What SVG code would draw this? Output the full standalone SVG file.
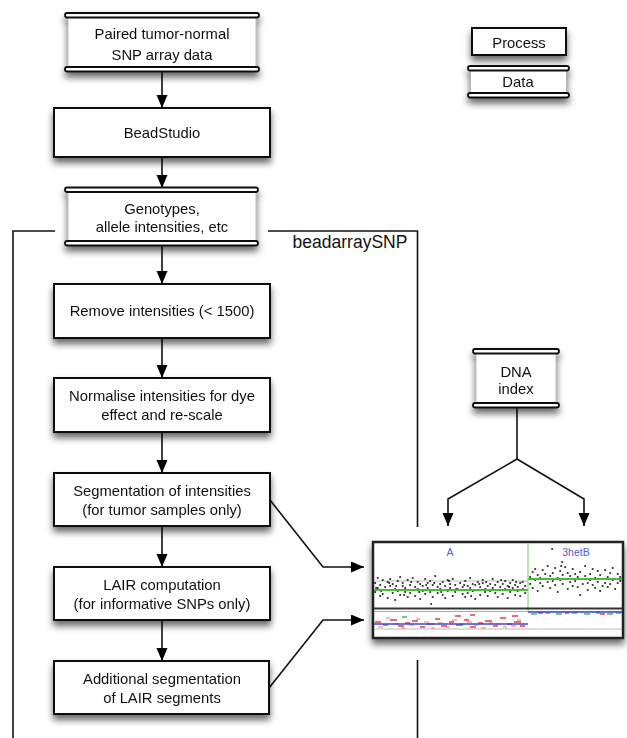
<svg xmlns="http://www.w3.org/2000/svg" width="627" height="738" viewBox="0 0 627 738">
<defs>
<filter id="sh" x="-20%" y="-20%" width="140%" height="160%">
<feDropShadow dx="0" dy="5" stdDeviation="3.5" flood-color="#000" flood-opacity="0.6"/>
</filter>
<marker id="ah" markerUnits="userSpaceOnUse" markerWidth="14" markerHeight="12" refX="13" refY="5.5" orient="auto">
<path d="M0,0 L13,5.5 L0,11 z" fill="#000"/>
</marker>
</defs>
<style>
.t{font-family:"Liberation Sans",Arial,sans-serif;font-size:14.8px;fill:#111;text-anchor:middle}
.pb{fill:#fff;stroke:#111;stroke-width:2}
.bar{fill:#fff;stroke:#111;stroke-width:1.8}
.body{fill:#fff;stroke:#aaa;stroke-width:0.8}
.c{fill:none;stroke:#111;stroke-width:1.6}
.lbl{font-family:"Liberation Sans",Arial,sans-serif;font-size:10.5px;fill:#5060d0;text-anchor:middle}
</style>
<rect width="627" height="738" fill="#fff"/>

<g id="connectors">
<line class="c" x1="162" y1="71" x2="162" y2="108" marker-end="url(#ah)"/>
<line class="c" x1="162" y1="157" x2="162" y2="188" marker-end="url(#ah)"/>
<line class="c" x1="162" y1="245" x2="162" y2="284" marker-end="url(#ah)"/>
<line class="c" x1="162" y1="338" x2="162" y2="378" marker-end="url(#ah)"/>
<line class="c" x1="162" y1="432" x2="162" y2="473" marker-end="url(#ah)"/>
<line class="c" x1="162" y1="526" x2="162" y2="567" marker-end="url(#ah)"/>
<line class="c" x1="162" y1="620" x2="162" y2="661" marker-end="url(#ah)"/>
<polyline class="c" points="270,500 323,567 364,567" marker-end="url(#ah)"/>
<polyline class="c" points="269,688 323,620 364,620" marker-end="url(#ah)"/>
<polyline class="c" points="517,408 517,459 448,499 448,526" marker-end="url(#ah)"/>
<polyline class="c" points="517,459 584,499 584,526" marker-end="url(#ah)"/>
<polyline class="c" points="55,231 13,231 13,738"/>
<polyline class="c" points="268,231 417.5,231 417.5,527"/>
<line class="c" x1="417.5" y1="660" x2="417.5" y2="738"/>
<text x="350" y="248" font-family="Liberation Sans,Arial,sans-serif" font-size="17.5" fill="#111" text-anchor="middle">beadarraySNP</text>
</g>

<g id="legend-process" filter="url(#sh)">
<rect class="pb" x="472" y="28" width="94" height="27"/>
<text class="t" x="519" y="47.5">Process</text>
</g>
<g id="legend-data" filter="url(#sh)">
<rect class="body" x="470.5" y="70.5" width="96" height="22.5"/>
<rect class="bar" x="468" y="66" width="101" height="4.5" rx="2.25"/>
<rect class="bar" x="468" y="93" width="101" height="4.5" rx="2.25"/>
<text class="t" x="518" y="87">Data</text>
</g>

<g id="paired-data" filter="url(#sh)">
<rect class="body" x="68" y="17" width="188" height="50"/>
<rect class="bar" x="65" y="13" width="194" height="4.5" rx="2.25"/>
<rect class="bar" x="65" y="67" width="194" height="4.5" rx="2.25"/>
<text class="t" x="162" y="38.5">Paired tumor-normal</text>
<text class="t" x="162" y="59.5">SNP array data</text>
</g>

<g id="beadstudio" filter="url(#sh)">
<rect class="pb" x="54" y="108" width="216" height="49"/>
<text class="t" x="162" y="138">BeadStudio</text>
</g>

<g id="genotypes" filter="url(#sh)">
<rect class="body" x="68" y="192" width="188" height="49"/>
<rect class="bar" x="65" y="187.5" width="193" height="4.5" rx="2.25"/>
<rect class="bar" x="65" y="241" width="193" height="4.5" rx="2.25"/>
<text class="t" x="162" y="213.5">Genotypes,</text>
<text class="t" x="162" y="231.5">allele intensities, etc</text>
</g>

<g id="remove" filter="url(#sh)">
<rect class="pb" x="54" y="284" width="216" height="54"/>
<text class="t" x="162" y="316">Remove intensities (&lt; 1500)</text>
</g>

<g id="normalise" filter="url(#sh)">
<rect class="pb" x="54" y="378" width="216" height="54"/>
<text class="t" x="162" y="401">Normalise intensities for dye</text>
<text class="t" x="162" y="419.5">effect and re-scale</text>
</g>

<g id="segmentation" filter="url(#sh)">
<rect class="pb" x="54" y="473" width="216" height="53"/>
<text class="t" x="162" y="496">Segmentation of intensities</text>
<text class="t" x="162" y="514.5">(for tumor samples only)</text>
</g>

<g id="lair" filter="url(#sh)">
<rect class="pb" x="54" y="567" width="216" height="53"/>
<text class="t" x="162" y="590">LAIR computation</text>
<text class="t" x="162" y="608.5">(for informative SNPs only)</text>
</g>

<g id="additional" filter="url(#sh)">
<rect class="pb" x="54" y="661" width="215" height="53"/>
<text class="t" x="162" y="684">Additional segmentation</text>
<text class="t" x="162" y="702.5">of LAIR segments</text>
</g>

<g id="dna-index" filter="url(#sh)">
<rect class="body" x="476" y="353.5" width="80" height="49.5"/>
<rect class="bar" x="473" y="349" width="86" height="4.5" rx="2.25"/>
<rect class="bar" x="473" y="403" width="86" height="4.5" rx="2.25"/>
<text class="t" x="516" y="376.5">DNA</text>
<text class="t" x="516" y="393.5">index</text>
</g>

<g id="plot-panel">
<rect x="373" y="542" width="250" height="96" fill="#fff" stroke="#222" stroke-width="2.5" filter="url(#sh)"/>
<text class="lbl" x="450" y="555.5">A</text>
<text class="lbl" x="576" y="555.5">3hetB</text>
<line x1="374" y1="581" x2="528" y2="581" stroke="#bbb" stroke-width="1"/>
<line x1="528" y1="579" x2="622" y2="579" stroke="#c9a0a0" stroke-width="1"/>
<path fill="none" stroke="#000" stroke-width="1.4" stroke-linecap="square" d="M375 583h.4M375 592h.4M377.5 578h.4M377.5 588h.4M380 596h.4M380 585h.4M382.5 580h.4M382.5 594h.4M385 587h.4M385 590h.4M387.5 582h.4M387.5 598h.4M390 586h.4M390 579h.4M392.5 593h.4M392.5 584h.4M395 589h.4M395 600h.4M397.5 581h.4M397.5 591h.4M400 577h.4M400 595h.4M402.5 586h.4M402.5 583h.4M405 592h.4M405 588h.4M407.5 597h.4M407.5 580h.4M410 585h.4M410 593h.4M412.5 590h.4M412.5 578h.4M415 587h.4M415 596h.4M417.5 582h.4M417.5 589h.4M420 584h.4M420 599h.4M422.5 591h.4M422.5 586h.4M425 579h.4M425 594h.4M427.5 583h.4M427.5 588h.4M430 592h.4M430 581h.4M432.5 597h.4M432.5 585h.4M435 590h.4M435 576h.4M437.5 587h.4M437.5 593h.4M440 584h.4M440 589h.4M442.5 595h.4M442.5 582h.4M445 598h.4M445 586h.4M447.5 580h.4M447.5 591h.4M450 588h.4M450 584h.4M452.5 596h.4M452.5 579h.4M455 592h.4M455 585h.4M457.5 589h.4M431 604h.4M460 583h.4M460 590h.4M462.5 587h.4M462.5 594h.4M465 581h.4M465 597h.4M467.5 586h.4M467.5 593h.4M470 578h.4M470 588h.4M472.5 584h.4M472.5 591h.4M475 585h.4M475 599h.4M477.5 582h.4M477.5 590h.4M480 587h.4M480 595h.4M482.5 583h.4M482.5 580h.4M485 592h.4M485 589h.4M487.5 586h.4M487.5 596h.4M490 584h.4M490 591h.4M492.5 579h.4M492.5 588h.4M495 593h.4M495 585h.4M497.5 582h.4M497.5 597h.4M500 590h.4M500 587h.4M502.5 584h.4M502.5 594h.4M505 581h.4M505 589h.4M507.5 586h.4M507.5 598h.4M510 583h.4M510 592h.4M512.5 588h.4M512.5 580h.4M515 595h.4M515 585h.4M517.5 591h.4M517.5 587h.4M520 583h.4M520 596h.4M522.5 589h.4M522.5 582h.4M525 586h.4M525 593h.4M376 588h.4M381 591h.4M389 583h.4M396 586h.4M404 595h.4M411 582h.4M419 592h.4M426 585h.4M434 583h.4M441 592h.4M449 581h.4M456 589h.4M464 585h.4M471 596h.4M479 584h.4M486 582h.4M494 590h.4M501 580h.4M509 587h.4M516 582h.4M524 590h.4M530 577h.4M530 584h.4M532.5 572h.4M532.5 588h.4M535 580h.4M535 569h.4M537.5 575h.4M537.5 591h.4M540 583h.4M540 578h.4M542.5 570h.4M542.5 586h.4M545 579h.4M545 574h.4M547.5 566h.4M547.5 582h.4M550 588h.4M550 576h.4M552.5 573h.4M552.5 581h.4M555 585h.4M555 568h.4M557.5 578h.4M557.5 592h.4M560 571h.4M560 580h.4M562.5 584h.4M562.5 575h.4M565 567h.4M565 579h.4M567.5 589h.4M567.5 573h.4M570 576h.4M570 582h.4M572.5 569h.4M572.5 586h.4M575 581h.4M575 574h.4M577.5 587h.4M577.5 577h.4M580 572h.4M580 595h.4M582.5 579h.4M582.5 584h.4M585 566h.4M585 576h.4M587.5 583h.4M587.5 590h.4M590 574h.4M590 580h.4M592.5 569h.4M592.5 585h.4M595 578h.4M595 588h.4M597.5 582h.4M597.5 571h.4M600 575h.4M600 591h.4M602.5 586h.4M602.5 579h.4M605 570h.4M605 583h.4M607.5 577h.4M607.5 587h.4M610 584h.4M610 573h.4M612.5 568h.4M612.5 580h.4M615 579h.4M615 589h.4M617.5 574h.4M617.5 583h.4M620 581h.4M620 577h.4M552 549h.4M562 562h.4M561 566h.4"/>
<line x1="374" y1="590" x2="528" y2="590" stroke="#4cb83c" stroke-width="1.8"/>
<line x1="528" y1="579" x2="622" y2="579" stroke="#4cb83c" stroke-width="1.8"/>
<line x1="528" y1="543" x2="528" y2="611" stroke="#8ed47e" stroke-width="1.2"/>
<line x1="374" y1="608.5" x2="622" y2="608.5" stroke="#333" stroke-width="2"/>
<line x1="374" y1="611.5" x2="622" y2="611.5" stroke="#aaa" stroke-width="1"/>
<line x1="374" y1="629" x2="622" y2="629" stroke="#bbb" stroke-width="1"/>
<path fill="none" stroke="#f4a0a0" stroke-width="1.6" d="M378 627h5M386 618h4M394 624h5M401 628h4M409 625h5M416 619h4M424 622h5M431 628h4M438 623h5M446 627h4M452 620h5M460 624h4M467 622h5M474 625h4M481 628h5M489 623h4M496 624h5M503 627h4M511 626h5M517 620h4"/>
<path fill="none" stroke="#e83a3a" stroke-width="1.6" d="M375 622h6M383 625h5M390 620h7M398 626h6M405 623h5M412 621h6M420 627h5M427 624h7M435 619h5M441 626h6M449 622h5M456 625h7M464 620h5M470 627h6M478 623h5M485 621h7M493 626h5M500 618h6M507 624h5M514 622h7M520 626h5M455 616h6M470 615h5M512 616h6M538 613h5M565 613h4M600 614h5"/>
<path fill="none" stroke="#4cb83c" stroke-width="1.4" d="M402 617h5M531 614h6M545 613h5M556 614h6M572 613h5M584 614h6M596 613h4M607 614h6M616 613h5"/>
<line x1="374" y1="624" x2="528" y2="624" stroke="#3a4ad0" stroke-width="1.4"/>
<line x1="528" y1="612" x2="622" y2="612" stroke="#3a4ad0" stroke-width="1.4"/>
</g>
</svg>
